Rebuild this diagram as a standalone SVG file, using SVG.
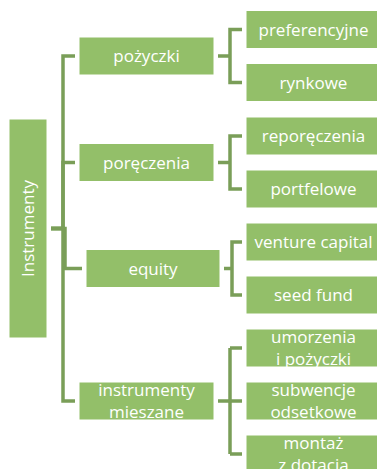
<svg xmlns="http://www.w3.org/2000/svg" width="377" height="469" viewBox="0 0 377 469">
<style>
.box{fill:#93BF69;stroke:#FFFFFF;stroke-width:1}
.t{font-family:"Open Sans","Liberation Sans",sans-serif;font-size:17px;fill:#FFFFFF;text-anchor:middle}
.c{fill:none;stroke:#7A9E58;stroke-width:3.5;stroke-linejoin:miter}
</style>
<rect width="377" height="469" fill="#FFFFFF"/>
<g id="connectors">
<path class="c" d="M51,228.5 H63 V56 H75"/>
<path class="c" d="M51,228.5 H63 V162.5 H75"/>
<path class="c" d="M51,228.5 H65 V268.5 H82"/>
<path class="c" d="M51,228.5 H63 V401 H75"/>
<path class="c" d="M218,56 H230 V29.5 H242 M230,56 V82.5 H242"/>
<path class="c" d="M218,162.5 H230 V136 H242 M230,162.5 V189 H242"/>
<path class="c" d="M224,268.5 H232 V242 H242 M232,268.5 V295 H242"/>
<path class="c" d="M218,401 H242 M230,348 V454 M230,348 H242 M230,454 H242"/>
</g>
<g id="root"><rect class="box" x="9" y="119" width="38" height="219"/><text class="t" transform="translate(34,228.5) rotate(-90)" x="0" y="0">Instrumenty</text></g>
<g id="pozyczki"><rect class="box" x="79" y="37" width="135" height="38"/><text class="t" x="146.5" y="62">pożyczki</text></g>
<g id="poreczenia"><rect class="box" x="79" y="143.5" width="135" height="38"/><text class="t" x="146.5" y="168.5">poręczenia</text></g>
<g id="equity"><rect class="box" x="86" y="249.5" width="134" height="38"/><text class="t" x="153" y="274.5">equity</text></g>
<g id="mieszane"><rect class="box" x="79" y="382" width="135" height="38"/><text class="t" x="146.5" y="396">instrumenty</text><text class="t" x="146.5" y="418">mieszane</text></g>
<g id="preferencyjne"><rect class="box" x="246" y="10.5" width="135" height="38"/><text class="t" x="313.5" y="35.5">preferencyjne</text></g>
<g id="rynkowe"><rect class="box" x="246" y="63.5" width="135" height="38"/><text class="t" x="313.5" y="88.5">rynkowe</text></g>
<g id="reporeczenia"><rect class="box" x="246" y="117" width="135" height="38"/><text class="t" x="313.5" y="142">reporęczenia</text></g>
<g id="portfelowe"><rect class="box" x="246" y="170" width="135" height="38"/><text class="t" x="313.5" y="195">portfelowe</text></g>
<g id="venture"><rect class="box" x="246" y="223" width="135" height="38"/><text class="t" x="313.5" y="248">venture capital</text></g>
<g id="seed"><rect class="box" x="246" y="276" width="135" height="38"/><text class="t" x="313.5" y="301">seed fund</text></g>
<g id="umorzenia"><rect class="box" x="246" y="329" width="135" height="38"/><text class="t" x="313.5" y="342.5">umorzenia</text><text class="t" x="313.5" y="365">i pożyczki</text></g>
<g id="subwencje"><rect class="box" x="246" y="382" width="135" height="38"/><text class="t" x="313.5" y="396">subwencje</text><text class="t" x="313.5" y="418">odsetkowe</text></g>
<g id="montaz"><rect class="box" x="246" y="435" width="135" height="38"/><text class="t" x="313.5" y="449">montaż</text><text class="t" x="313.5" y="471">z dotacją</text></g>
</svg>
